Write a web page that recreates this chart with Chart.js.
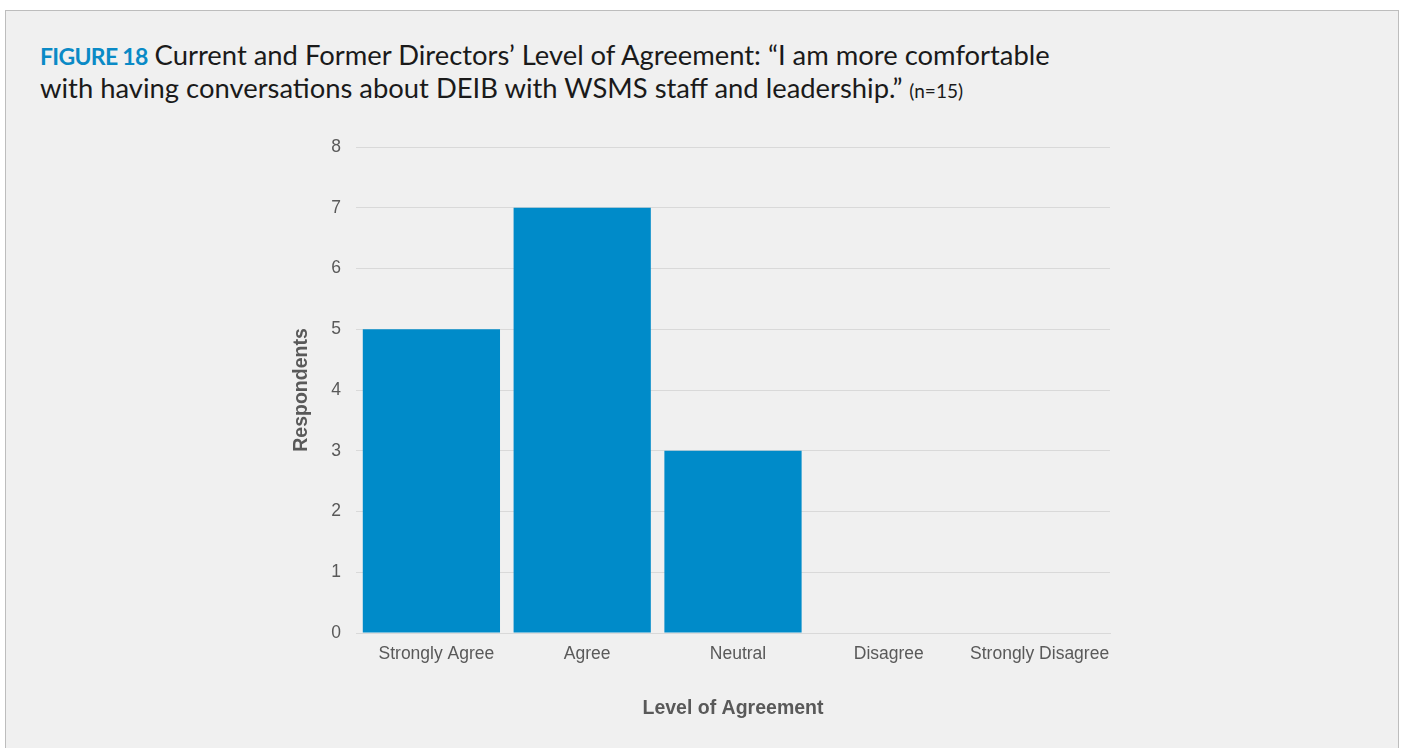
<!DOCTYPE html>
<html>
<head>
<meta charset="utf-8">
<script src="https://cdn.jsdelivr.net/npm/chart.js@4"></script>
<style>
  html, body { margin: 0; padding: 0; background: #fff; }
  body { width: 1403px; height: 748px; overflow: hidden; position: relative; }
  .panel {
    position: absolute; left: 5px; top: 10px; width: 1392px; height: 760px;
    background: #f0f0f0; border: 1px solid #bdbdbd;
  }
  .title {
    position: absolute; left: 40px; top: 39px;
    font-family: Lato, 'Open Sans', sans-serif; font-size: 27.4px; line-height: 32px; color: #1a1a1a;
  }
  .title .fig { color: #0a8ac6; font-weight: bold; font-size: 23px; letter-spacing: -0.7px; margin-right: 7px; }
  .title .n { font-size: 19px; }
  .wrap { position: absolute; left: 280px; top: 120px; width: 840px; height: 620px; }
</style>
</head>
<body>
<div class="panel"></div>
<div class="title">
  <span class="fig">FIGURE 18</span>Current and Former Directors’ Level of Agreement: “I am more comfortable<br>
  with having conversations about DEIB with WSMS staff and leadership.” <span class="n">(n=15)</span>
</div>
<div class="wrap"><canvas id="agreeChart"></canvas></div>
<script>
// data
const categories = ['Strongly Agree', 'Agree', 'Neutral', 'Disagree', 'Strongly Disagree'];
const respondents = [5, 7, 3, 0, 0];
const yTicks = [0, 1, 2, 3, 4, 5, 6, 7, 8];

const tickFont = { family: "'Liberation Sans', Arial, sans-serif", size: 17.5 };
const titleFont = { family: "'Liberation Sans', Arial, sans-serif", size: 19.5, weight: 'bold' };

new Chart(document.getElementById('agreeChart').getContext('2d'), {
  type: 'bar',
  data: {
    labels: categories,
    datasets: [{
      label: 'Respondents',
      data: respondents,
      backgroundColor: '#008bc9',
      borderWidth: 0,
      barPercentage: 0.91,
      categoryPercentage: 1.0,
    }],
  },
  options: {
    responsive: true,
    maintainAspectRatio: false,
    animation: false,
    layout: { padding: { top: 27, right: 10, bottom: 0, left: 0 } },
    plugins: { legend: { display: false }, tooltip: { enabled: false } },
    scales: {
      x: {
        grid: { display: false, drawTicks: false },
        border: { display: true, color: '#d9d9d9', width: 1 },
        ticks: { color: '#595959', font: tickFont, padding: 11, maxRotation: 0, labelOffset: 5 },
        title: { display: true, text: 'Level of Agreement', color: '#595959', font: titleFont, padding: { top: 4, bottom: 20 } },
        afterFit: (axis) => { axis.height = 107; },
      },
      y: {
        min: 0,
        max: 8,
        afterBuildTicks: (axis) => { axis.ticks = yTicks.map((v) => ({ value: v })); },
        grid: { color: '#d9d9d9', drawTicks: false },
        border: { display: false },
        ticks: { color: '#595959', font: tickFont, padding: 15 },
        title: { display: true, text: 'Respondents', color: '#595959', font: titleFont, padding: { top: 10, bottom: 4 } },
        afterFit: (axis) => { axis.width = 76; },
      },
    },
  },
});
</script>
</body>
</html>
